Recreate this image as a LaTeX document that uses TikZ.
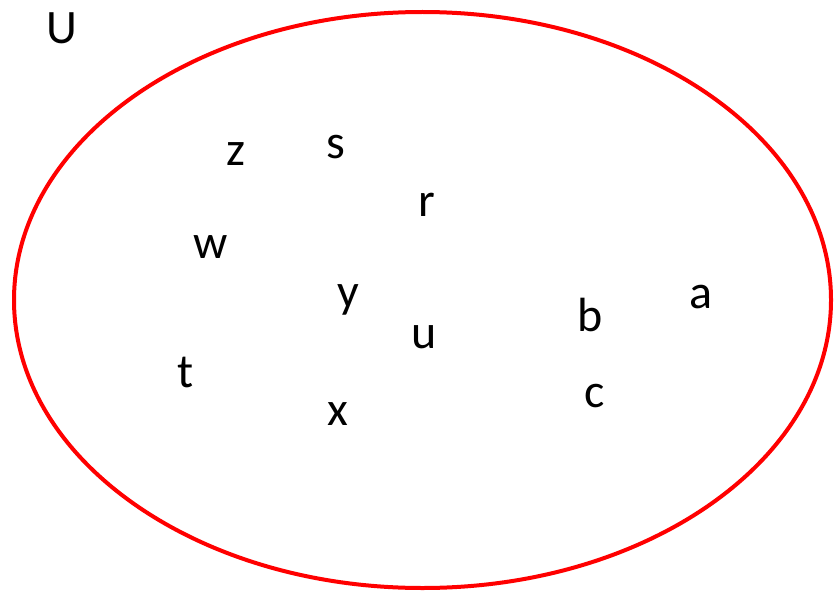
\documentclass[tikz,border=0pt]{standalone}
\usepackage{fontspec}
\setmainfont{Carlito}
\usetikzlibrary{shapes.geometric}
\begin{document}
\begin{tikzpicture}[x=1pt,y=-1pt,
  lbl/.style={anchor=base,inner sep=0pt,font=\fontsize{48}{50}\selectfont},
  setshape/.style={draw=red,line width=4pt,ellipse,inner sep=0pt,minimum width=817pt,minimum height=576pt}]
\useasboundingbox (0,0) rectangle (834,591);
\node[setshape] (set) at (422.5,300) {};
\node[lbl] (U) at (62,44) {U};
\node[lbl] (z) at (236,165) {z};
\node[lbl] (s) at (336,158) {s};
\node[lbl] (r) at (427,216) {r};
\node[lbl] (w) at (211,258) {w};
\node[lbl] (y) at (348,307) {y};
\node[lbl] (u) at (424,348) {u};
\node[lbl] (b) at (590,331) {b};
\node[lbl] (a) at (701,308) {a};
\node[lbl] (t) at (186,387) {t};
\node[lbl] (x) at (338,425) {x};
\node[lbl] (c) at (595,407) {c};
\end{tikzpicture}
\end{document}
